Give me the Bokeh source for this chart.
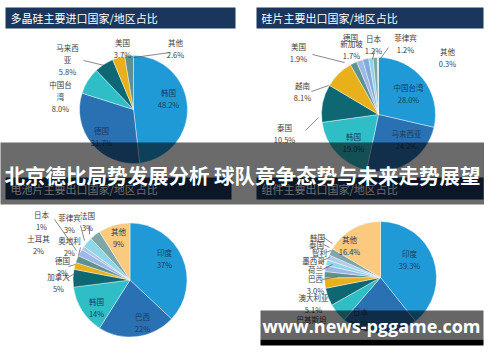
import math
from bokeh.plotting import figure
from bokeh.models import Range1d
from bokeh.core.properties import value
from bokeh.embed import file_html
from bokeh.resources import INLINE

# ---------------- data ----------------
c1_title = "多晶硅主要进口国家/地区占比"
c1_names = ["韩国", "德国", "中国台湾", "马来西亚", "美国", "其他"]
c1_values = [48.2, 31.7, 8.0, 5.8, 3.7, 2.6]

c2_title = "硅片主要出口国家/地区占比"
c2_names = ["中国台湾", "马来西亚", "韩国", "泰国", "越南", "美国", "德国", "新加坡", "日本", "菲律宾", "其他"]
c2_values = [28.0, 24.2, 19.0, 10.5, 8.1, 1.9, 1.7, 1.7, 1.2, 1.2, 0.3]

c3_title = "电池片主要出口国家/地区占比"
c3_names = ["印度", "巴西", "韩国", "加拿大", "德国", "奥地利", "土耳其", "日本", "菲律宾", "法国", "其他"]
c3_values = [37, 22, 14, 5, 2, 2, 2, 1, 3, 3, 9]

c4_title = "组件主要出口国家/地区占比"
c4_names = ["印度", "日本", "巴基斯坦", "澳大利亚", "巴西", "荷兰", "墨西哥", "智利", "泰国", "韩国", "其他"]
c4_values = [39.3, 22.0, 5.5, 5.1, 3.0, 1.8, 1.8, 1.6, 1.5, 2.0, 16.4]

banner_text = "北京德比局势发展分析 球队竞争态势与未来走势展望"
url_text = "www.news-pggame.com"

# ---------------- style ----------------
BLUE = "#1f9ad6"
DBLUE = "#2a71b4"
TEAL = "#30bec6"
DTEAL = "#0d6874"
YELLOW = "#e8b11c"
GTEAL = "#5f9190"
LBLUE = "#9db7e6"
LBLUE2 = "#86a9dc"
LCYAN = "#8fd7e7"
GRAY = "#7fa6a8"
ORANGE = "#fbca7e"
NAVY = "#1b365c"
FONT = "Noto Sans CJK SC"

c1_colors = [BLUE, DBLUE, TEAL, DTEAL, YELLOW, GTEAL]
c2_colors = [BLUE, DBLUE, TEAL, DTEAL, YELLOW, GTEAL, LBLUE, LBLUE2, LCYAN, GRAY, "#b9d9da"]
c3_colors = [BLUE, DBLUE, TEAL, DTEAL, YELLOW, GTEAL, LBLUE, "#b0c4ee", LCYAN, GRAY, ORANGE]
c4_colors = [BLUE, DBLUE, TEAL, DTEAL, YELLOW, GTEAL, LBLUE, LCYAN, "#b4cbea", GRAY, ORANGE]

W, H = 484, 346
p = figure(width=W, height=H, output_backend="svg", toolbar_location=None,
           x_range=Range1d(8, 492), y_range=Range1d(8, 354), min_border=0)
p.axis.visible = False
p.grid.visible = False
p.outline_line_color = None
p.background_fill_color = "white"
p.border_fill_color = "white"


def Y(y):
    return 362 - y


def pie(cx, cy, r, vals, colors):
    tot = float(sum(vals))
    cum = 0.0
    starts, ends = [], []
    for v in vals:
        a0 = math.pi / 2 - 2 * math.pi * cum / tot
        cum += v
        a1 = math.pi / 2 - 2 * math.pi * cum / tot
        starts.append(a0)
        ends.append(a1)
    n = len(vals)
    p.wedge(x=[cx] * n, y=[Y(cy)] * n, radius=r, start_angle=starts, end_angle=ends,
            direction="clock", fill_color=colors, line_color="white", line_width=0.4)


def title_bar(x0, x1, y0, y1, text):
    p.quad(left=x0, right=x1, top=Y(y0), bottom=Y(y1), fill_color=NAVY, line_color=None)
    p.text(x=[x0 + 5], y=[Y((y0 + y1) / 2)], text=[text], text_color="white",
           text_font=value(FONT), text_font_size="11px", text_baseline="middle", text_align="left")


def label(x, y, txt, color="#404040", size="7.5px"):
    p.text(x=[x], y=[Y(y)], text=[txt], text_color=color, text_font=value(FONT),
           text_font_size=size, text_align="center", text_baseline="middle", text_line_height=1.05)


def leader(xs, ys):
    p.line(x=xs, y=[Y(v) for v in ys], line_color="#555555", line_width=0.7)


def pct(v):
    return f"{v}%"


IN = "#1b3a60"

# ---------------- chart 1 ----------------
title_bar(13, 243, 15, 36, c1_title)
pie(141, 117, 54, c1_values, c1_colors)
label(176, 106, c1_names[0] + "\n" + pct(c1_values[0]), IN)
label(109, 144, c1_names[1] + "\n" + pct(c1_values[1]), IN)
label(68, 104, "中国台\n湾\n" + pct(c1_values[2]))
label(75, 67, "马来西\n亚\n" + pct(c1_values[3]))
label(130, 56, c1_names[4] + "\n" + pct(c1_values[4]))
label(183, 56, c1_names[5] + "\n" + pct(c1_values[5]))
leader([91, 112], [68, 73])
leader([178, 141], [60, 65])

# ---------------- chart 2 ----------------
title_bar(264, 491, 15, 36, c2_title)
pie(386, 122, 57, c2_values, c2_colors)
label(416, 101, c2_names[0] + "\n" + pct(c2_values[0]), IN)
label(414, 147, c2_names[1] + "\n" + pct(c2_values[1]), IN)
label(361, 150, c2_names[2] + "\n" + pct(c2_values[2]), IN)
label(292, 141, c2_names[3] + "\n" + pct(c2_values[3]))
label(310, 99, c2_names[4] + "\n" + pct(c2_values[4]))
label(306, 60, c2_names[5] + "\n" + pct(c2_values[5]))
label(358, 45, c2_names[6])
label(359, 57, c2_names[7] + "\n" + pct(c2_values[7]))
label(381, 52, c2_names[8] + "\n" + pct(c2_values[8]))
label(413, 51, c2_names[9] + "\n" + pct(c2_values[9]))
label(455, 65, c2_names[10] + "\n" + pct(c2_values[10]))
leader([320, 352], [62, 70])
leader([319, 336], [99, 93])
leader([313, 326], [138, 125])
leader([382, 380], [58, 67])
leader([396, 388], [55, 66])

# ---------------- chart 3 ----------------
title_bar(13, 239, 185, 207, c3_title)
pie(137.5, 287.5, 57, c3_values, c3_colors)
label(172, 266, c3_names[0] + "\n" + pct(c3_values[0]), IN)
label(150, 330, c3_names[1] + "\n" + pct(c3_values[1]), IN)
label(104, 315, c3_names[2] + "\n" + pct(c3_values[2]), IN)
label(66, 290, c3_names[3] + "\n" + pct(c3_values[3]))
label(70, 274, c3_names[4] + "\n" + pct(c3_values[4]))
label(77, 254, c3_names[5] + "\n" + pct(c3_values[5]))
label(46, 252, c3_names[6] + "\n" + pct(c3_values[6]))
label(49, 228, c3_names[7] + "\n" + pct(c3_values[7]))
label(77, 231, c3_names[8] + "\n" + pct(c3_values[8]))
label(95, 229, c3_names[9] + "\n" + pct(c3_values[9]))
label(126, 245, c3_names[10] + "\n" + pct(c3_values[10]), IN)
leader([74, 84], [286, 280])
leader([76, 83], [274, 272])
leader([88, 86], [255, 263])
leader([62, 84], [227, 258])
leader([88, 92], [233, 248])
leader([97, 97], [233, 242])

# ---------------- chart 4 ----------------
title_bar(264, 491, 185, 207, c4_title)
pie(388, 285, 56, c4_values, c4_colors)
label(417, 267, c4_names[0] + "\n" + pct(c4_values[0]), IN)
label(368, 325, c4_names[1] + "\n" + pct(c4_values[1]), IN)
label(319, 327, c4_names[2])
label(321, 311, c4_names[3] + "\n" + pct(c4_values[3]))
label(323, 292, c4_names[4] + "\n" + pct(c4_values[4]))
label(323, 277, c4_names[5])
label(321, 268, c4_names[6])
label(327, 260, c4_names[7])
label(324, 252, c4_names[8])
label(325, 245, c4_names[9])
label(357, 253, c4_names[10] + "\n" + pct(c4_values[10]), IN)
leader([330, 345], [287, 284])
leader([330, 340], [277, 272])
leader([330, 337], [268, 265])
leader([333, 339], [260, 258])
leader([331, 337], [252, 255])
leader([331, 340], [245, 251])

# ---------------- overlays ----------------
p.quad(left=5, right=495, top=Y(150), bottom=Y(212), fill_color="black", fill_alpha=0.58, line_color=None)
p.text(x=[250], y=[Y(182)], text=[banner_text], text_color="white", text_font=value(FONT),
       text_font_size="20.5px", text_font_style="bold", text_align="center", text_baseline="middle")

p.quad(left=268, right=491, top=Y(318), bottom=Y(347), fill_color="black", fill_alpha=0.6, line_color=None)
p.quad(left=268, right=491, top=Y(347), bottom=Y(353), fill_color="black", line_color=None)
p.text(x=[379], y=[Y(333)], text=[url_text], text_color="white", text_font=value("Open Sans"),
       text_font_size="18px", text_font_style="bold", text_align="center", text_baseline="middle")

open("out.html", "w").write(file_html(p, INLINE))
